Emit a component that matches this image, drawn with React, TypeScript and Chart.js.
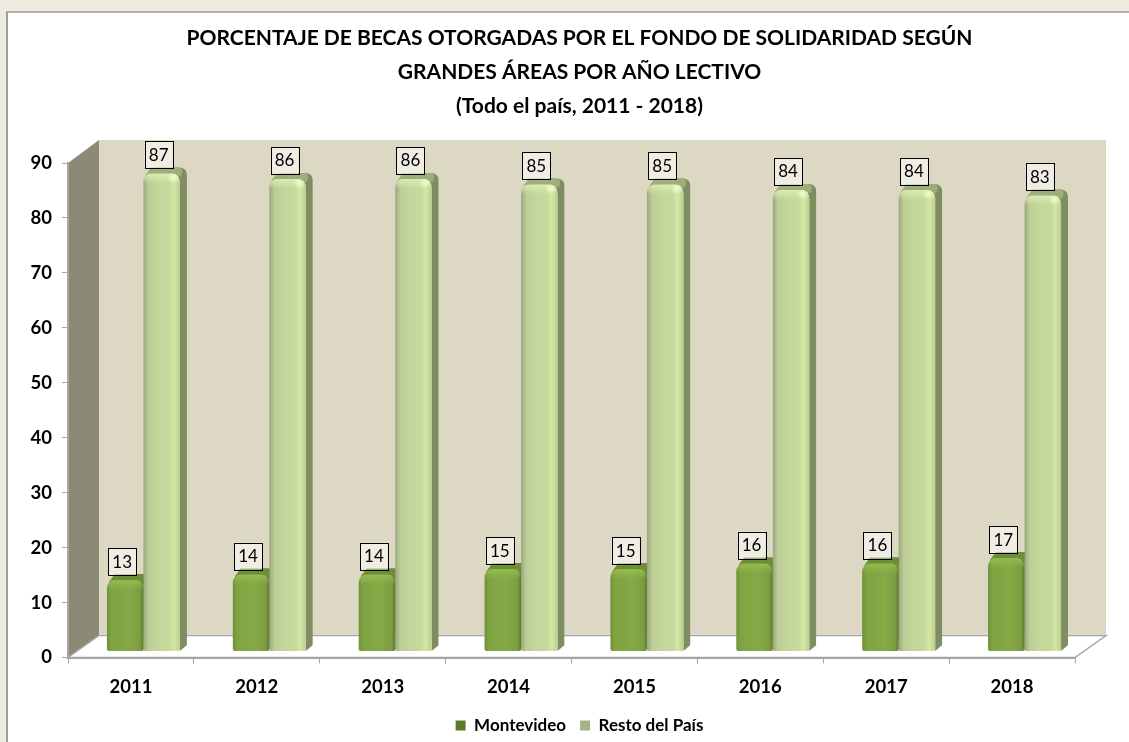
import React, { useEffect, useRef } from "react";
import { Chart, registerables } from "chart.js";

Chart.register(...registerables);

const years = ["2011", "2012", "2013", "2014", "2015", "2016", "2017", "2018"];
const montevideo = [13, 14, 14, 15, 15, 16, 16, 17];
const restoDelPais = [87, 86, 86, 85, 85, 84, 84, 83];
const titleLines = [
  "PORCENTAJE DE BECAS OTORGADAS POR EL FONDO DE SOLIDARIDAD SEGÚN",
  "GRANDES ÁREAS POR AÑO LECTIVO",
  "(Todo el país, 2011 - 2018)",
];

const FONT = "Lato, Carlito, sans-serif";
const DEPTH_X = 31;
const DEPTH_Y = 22;
const BAR_DX = 12.5;
const BAR_DY = 6;
const SIDE_X = 7;
const SIDE_Y = 6;
const AXIS = "#a6a6a6";

const roomPlugin = {
  id: "room",
  beforeDraw(chart: any) {
    const { ctx, chartArea: a } = chart;
    ctx.save();
    ctx.fillStyle = "#ddd8c3";
    ctx.fillRect(a.left + DEPTH_X, a.top - DEPTH_Y - 1, a.width, a.height);
    ctx.fillStyle = "#8c8a76";
    ctx.beginPath();
    ctx.moveTo(a.left, a.bottom);
    ctx.lineTo(a.left + DEPTH_X, a.bottom - DEPTH_Y);
    ctx.lineTo(a.left + DEPTH_X, a.top - DEPTH_Y - 1);
    ctx.lineTo(a.left, a.top);
    ctx.closePath();
    ctx.fill();
    ctx.fillStyle = "#ffffff";
    ctx.strokeStyle = AXIS;
    ctx.lineWidth = 1.5;
    ctx.beginPath();
    ctx.moveTo(a.left, a.bottom);
    ctx.lineTo(a.left + DEPTH_X, a.bottom - DEPTH_Y);
    ctx.lineTo(a.right + DEPTH_X, a.bottom - DEPTH_Y);
    ctx.lineTo(a.right, a.bottom);
    ctx.closePath();
    ctx.fill();
    ctx.stroke();
    ctx.restore();
  },
};

const barsPlugin = {
  id: "bars3d",
  beforeDatasetsDraw(chart: any) {
    chart.ctx.save();
    chart.ctx.translate(BAR_DX, -BAR_DY);
  },
  beforeDatasetDraw(chart: any, args: any) {
    const { ctx } = chart;
    const resto = args.index === 1;
    args.meta.data.forEach((el: any) => {
      const l = el.x - el.width / 2;
      const r = el.x + el.width / 2;
      const r0 = 8;
      ctx.save();
      ctx.beginPath();
      ctx.rect(l - 2, 0, resto ? el.width + SIDE_X + 2 : el.width + 2, chart.height);
      ctx.clip();
      ctx.fillStyle = resto ? "#7f8d62" : "#5f7a2e";
      ctx.beginPath();
      ctx.moveTo(r, el.base);
      ctx.lineTo(r + SIDE_X, el.base - SIDE_Y);
      ctx.lineTo(r + SIDE_X, el.y - SIDE_Y + r0);
      ctx.quadraticCurveTo(r + SIDE_X, el.y - SIDE_Y, r + SIDE_X - r0, el.y - SIDE_Y);
      ctx.lineTo(l + r0, el.y - SIDE_Y);
      ctx.lineTo(l + 2, el.y + 3);
      ctx.lineTo(r, el.y + r0);
      ctx.closePath();
      ctx.fill();
      ctx.fillStyle = resto ? "#9dae7a" : "#6f8d38";
      ctx.beginPath();
      ctx.moveTo(l + 2, el.y + 2);
      ctx.lineTo(l + r0, el.y - SIDE_Y);
      ctx.lineTo(r + SIDE_X - r0, el.y - SIDE_Y);
      ctx.quadraticCurveTo(r + SIDE_X - 2, el.y - SIDE_Y + 1, r + 1, el.y + 3);
      ctx.closePath();
      ctx.fill();
      ctx.restore();
    });
  },
  afterDatasetDraw(chart: any, args: any) {
    const { ctx } = chart;
    const resto = args.index === 1;
    args.meta.data.forEach((el: any) => {
      const l = el.x - el.width / 2;
      const g = ctx.createLinearGradient(0, el.y, 0, el.y + 10);
      g.addColorStop(0, resto ? "rgba(222,238,180,0.9)" : "rgba(150,190,80,0.9)");
      g.addColorStop(1, resto ? "rgba(222,238,180,0)" : "rgba(150,190,80,0)");
      ctx.save();
      ctx.beginPath();
      ctx.roundRect(l, el.y, el.width, 10, [8, 8, 0, 0]);
      ctx.clip();
      ctx.fillStyle = g;
      ctx.fillRect(l, el.y, el.width, 10);
      if (resto) {
        const sx = l + el.width * 0.82;
        const sy = el.y + 4;
        const spot = ctx.createRadialGradient(sx, sy, 0, sx, sy, 6);
        spot.addColorStop(0, "rgba(240,250,205,1)");
        spot.addColorStop(1, "rgba(240,250,205,0)");
        ctx.fillStyle = spot;
        ctx.fillRect(sx - 6, el.y, 12, 10);
      }
      ctx.restore();
    });
  },
  afterDatasetsDraw(chart: any) {
    const { ctx } = chart;
    ctx.restore();
    ctx.save();
    ctx.font = `400 17px ${FONT}`;
    ctx.textAlign = "center";
    ctx.textBaseline = "middle";
    chart.getSortedVisibleDatasetMetas().forEach((meta: any) => {
      meta.data.forEach((el: any, i: number) => {
        const value = chart.data.datasets[meta.index].data[i];
        const cx = el.x + BAR_DX - 3;
        const bottom = el.y - 11;
        ctx.fillStyle = "rgba(255,255,255,0.55)";
        ctx.fillRect(cx - 14, bottom - 27, 28, 27);
        ctx.strokeStyle = "#000000";
        ctx.lineWidth = 1;
        ctx.strokeRect(Math.round(cx - 14) + 0.5, Math.round(bottom - 27) + 0.5, 28, 27);
        ctx.fillStyle = "#000000";
        ctx.fillText(String(value), cx, bottom - 13);
      });
    });
    ctx.restore();
  },
};

function frontFill(stops: [number, string][], side: number) {
  return (c: any) => {
    const chart = c.chart;
    const xs = chart.scales.x;
    if (!xs || c.dataIndex === undefined) return stops[1][1];
    const w = (xs.width / years.length) * 0.58 * 0.5;
    const mid = xs.getPixelForValue(c.dataIndex);
    const left = side === 0 ? mid - w : mid;
    const g = chart.ctx.createLinearGradient(left, 0, left + w, 0);
    stops.forEach(([o, col]) => g.addColorStop(o, col));
    return g;
  };
}

const montStops: [number, string][] = [
  [0, "#6f9039"],
  [0.12, "#80a343"],
  [0.6, "#86a946"],
  [0.9, "#7c9d40"],
  [1, "#5e7a30"],
];
const restoStops: [number, string][] = [
  [0, "#98a880"],
  [0.14, "#bccd95"],
  [0.4, "#c3d69b"],
  [0.72, "#c6da9c"],
  [0.84, "#d4e8a2"],
  [1, "#bccd90"],
];

export default function App() {
  const ref = useRef<HTMLCanvasElement>(null);
  useEffect(() => {
    const chart = new Chart(ref.current!, {
      type: "bar",
      data: {
        labels: years,
        datasets: [
          {
            label: "Montevideo",
            data: montevideo,
            clip: false,
            backgroundColor: frontFill(montStops, 0),
            borderRadius: { topLeft: 8, topRight: 8, bottomLeft: 2, bottomRight: 2 },
            borderSkipped: false,
          },
          {
            label: "Resto del País",
            data: restoDelPais,
            clip: false,
            backgroundColor: frontFill(restoStops, 1),
            borderRadius: { topLeft: 8, topRight: 8, bottomLeft: 2, bottomRight: 2 },
            borderSkipped: false,
          },
        ] as any,
      },
      plugins: [roomPlugin, barsPlugin],
      options: {
        animation: false,
        responsive: false,
        layout: { padding: { left: 30, right: 0, top: 0, bottom: -2 } },
        datasets: { bar: { categoryPercentage: 0.58, barPercentage: 1 } },
        plugins: {
          tooltip: { enabled: false },
          title: {
            display: true,
            text: titleLines,
            color: "#000000",
            font: { family: FONT, size: 21, weight: "bold", lineHeight: "34px" },
            padding: { top: 21, bottom: 40 },
          },
          legend: {
            position: "bottom",
            labels: {
              boxWidth: 10,
              boxHeight: 10,
              padding: 14,
              color: "#000000",
              font: { family: FONT, size: 17, weight: "bold" },
              generateLabels: () => [
                { text: "Montevideo", fillStyle: "#5d7a2b", strokeStyle: "#4c6622", lineWidth: 0, datasetIndex: 0 },
                { text: "Resto del País", fillStyle: "#a3b587", strokeStyle: "#8b9c70", lineWidth: 0, datasetIndex: 1 },
              ],
            },
          },
        },
        scales: {
          x: {
            grid: { display: true, drawOnChartArea: false, drawTicks: true, tickLength: 6, color: AXIS, offset: true },
            border: { color: AXIS, width: 2 },
            ticks: { color: "#000000", font: { family: FONT, size: 18.5, weight: "bold" }, padding: 12, maxRotation: 0 },
            afterFit(s: any) {
              s.height = 45.5;
            },
          },
          y: {
            min: 0,
            max: 90,
            grid: { display: true, drawOnChartArea: false, drawTicks: true, tickLength: 6, color: AXIS },
            border: { color: AXIS, width: 2 },
            ticks: { stepSize: 10, color: "#000000", font: { family: FONT, size: 18.5, weight: "bold" }, padding: 10 },
            afterFit(s: any) {
              s.width = 38;
            },
          },
          yr: {
            position: "right",
            min: 0,
            max: 90,
            grid: { display: false },
            border: { display: false },
            ticks: { display: false },
            afterFit(s: any) {
              s.width = 54;
            },
          },
        },
      } as any,
    });
    return () => chart.destroy();
  }, []);
  return (
    <div style={{ position: "absolute", left: 0, top: 0, width: 1129, height: 742, background: "#eeece1", overflow: "hidden" }}>
      <div
        style={{
          position: "absolute",
          left: 6,
          top: 11,
          width: 1123,
          height: 731,
          background: "#ffffff",
          borderLeft: "2px solid #a0a0a0",
          borderTop: "2px solid #b0b0a8",
          boxSizing: "border-box",
        }}
      />
      <canvas ref={ref} width={1129} height={742} style={{ position: "absolute", left: 0, top: 0, display: "block" }} />
    </div>
  );
}
